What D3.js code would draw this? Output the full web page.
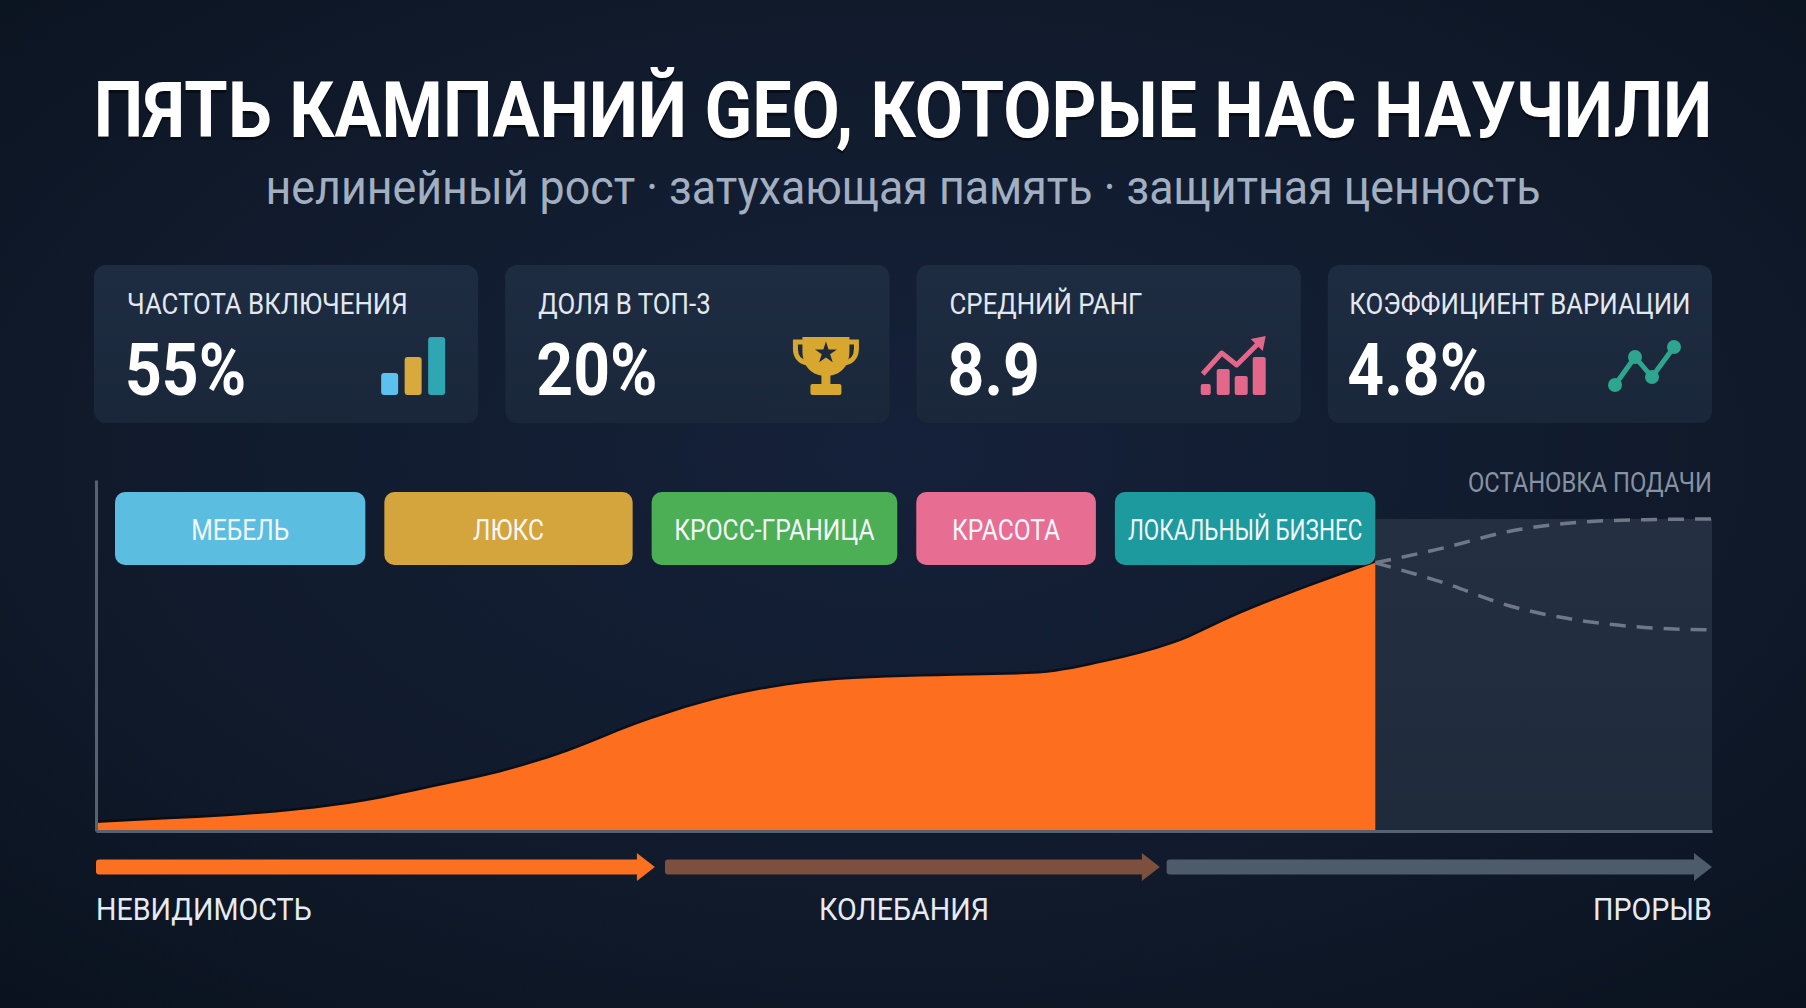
<!DOCTYPE html>
<html>
<head>
<meta charset="utf-8">
<script src="https://cdn.jsdelivr.net/npm/d3@7"></script>
<style>
  body { margin: 0; background: #0e1828; }
  text { font-family: Roboto, "Noto Sans", sans-serif; }
</style>
</head>
<body>
<div id="chart"></div>
<script>

const title = "ПЯТЬ КАМПАНИЙ GEO, КОТОРЫЕ НАС НАУЧИЛИ";
const subtitle = "нелинейный рост · затухающая память · защитная ценность";

const kpiLabels = ["ЧАСТОТА ВКЛЮЧЕНИЯ", "ДОЛЯ В ТОП-3", "СРЕДНИЙ РАНГ", "КОЭФФИЦИЕНТ ВАРИАЦИИ"];
const kpiValues = ["55%", "20%", "8.9", "4.8%"];

const campaigns = ["МЕБЕЛЬ", "ЛЮКС", "КРОСС-ГРАНИЦА", "КРАСОТА", "ЛОКАЛЬНЫЙ БИЗНЕС"];
const campaignStart = [0, 4, 7.97, 11.9, 14.85];
const campaignEnd = [4, 7.97, 11.9, 14.85, 19];

// visibility index per week, 0-100
const weeks = [0, 1, 2, 3, 4, 5, 6, 7, 8, 9, 10, 11, 12, 13, 14, 15, 16, 17, 18, 19];
const growth = [2.3, 3.3, 4.3, 5.9, 8.5, 12.5, 16.7, 22.6, 30.2, 36.4, 40.7, 43.0, 43.9, 44.3, 44.9, 48.2, 53.4, 62.0, 69.5, 76.4];

// after feeding stops
const stopLabel = "ОСТАНОВКА ПОДАЧИ";
const afterWeeks = [19, 20, 21, 22, 23, 24];
const afterUpper = [76.4, 80.6, 85.4, 87.9, 88.7, 88.9];
const afterLower = [76.4, 70.8, 64.1, 60.1, 58.0, 57.3];

const phases = ["НЕВИДИМОСТЬ", "КОЛЕБАНИЯ", "ПРОРЫВ"];
const phaseStart = [0, 8.45, 15.9];
const phaseEnd = [8.3, 15.8, 24];


const width = 1806;
const height = 1008;

const margin = { top: 478, left: 96, right: 94, bottom: 177 };

const svg = d3.select("#chart")
    .append("svg")
    .attr("width", width)
    .attr("height", height);

const defs = svg.append("defs");

const bg = defs.append("radialGradient")
    .attr("id", "bg")
    .attr("cx", "50%").attr("cy", "45%").attr("r", "75%");
bg.append("stop").attr("offset", "0%").attr("stop-color", "#15213a");
bg.append("stop").attr("offset", "60%").attr("stop-color", "#101a2b");
bg.append("stop").attr("offset", "100%").attr("stop-color", "#0a121e");

const shade = defs.append("linearGradient")
    .attr("id", "shade")
    .attr("x1", 0).attr("y1", 0).attr("x2", 0).attr("y2", 1);
shade.append("stop").attr("offset", "0%").attr("stop-color", "#243042");
shade.append("stop").attr("offset", "100%").attr("stop-color", "#1f2a3b");

const card = defs.append("linearGradient")
    .attr("id", "card")
    .attr("x1", 0).attr("y1", 0).attr("x2", 0).attr("y2", 1);
card.append("stop").attr("offset", "0%").attr("stop-color", "#1e2c42");
card.append("stop").attr("offset", "100%").attr("stop-color", "#1a273a");

svg.append("rect")
    .attr("width", width)
    .attr("height", height)
    .attr("fill", "url(#bg)");


// squeeze text horizontally to look like a condensed face
function squeeze(sel, k, maxW) {
    sel.each(function(d, i) {
        let w = this.getComputedTextLength() * k;
        const lim = maxW ? maxW(d, i) : Infinity;
        d3.select(this)
            .attr("textLength", Math.min(w, lim))
            .attr("lengthAdjust", "spacingAndGlyphs");
    });
}

// ---- title ----
// soft shadow first, then the white text over it; stretched a bit upward
[["#000000", 0.45, 3], ["#ffffff", 1, 0]].forEach(([c, o, dy]) => {
    svg.append("text")
        .attr("transform", `translate(${width / 2},${137 + dy}) scale(0.973,1.08)`)
        .attr("text-anchor", "middle")
        .attr("fill", c)
        .attr("fill-opacity", o)
        .attr("font-size", 72)
        .attr("font-weight", 700)
        .text(title);
});

svg.append("text")
    .attr("x", width / 2)
    .attr("y", 204)
    .attr("text-anchor", "middle")
    .attr("fill", "#a2afc1")
    .attr("font-size", 49)
    .text(subtitle)
    .call(squeeze, 1, () => 1275);


// ---- KPI cards ----
const cardScale = d3.scaleBand()
    .domain(kpiLabels)
    .range([94, 1712])
    .paddingInner(0.066);

const cardTop = 265;
const cardH = 158;

const cards = svg.selectAll(".card")
    .data(kpiLabels)
    .enter()
    .append("g")
        .attr("class", "card")
        .attr("transform", d => `translate(${cardScale(d)},${cardTop})`);

cards.append("rect")
    .attr("width", cardScale.bandwidth())
    .attr("height", cardH)
    .attr("rx", 12)
    .attr("fill", "url(#card)");

const labels = cards.append("text")
    .attr("y", 49)
    .attr("fill", "#e3e8ef")
    .attr("font-size", 30)
    .text(d => d)
    .call(squeeze, 0.86);

// long labels get centred instead of the usual left inset
const inset = [];
labels.each(function(d, i) {
    const w = +d3.select(this).attr("textLength");
    inset[i] = Math.min(33, (cardScale.bandwidth() - w) / 2);
    d3.select(this).attr("x", inset[i]);
});

cards.append("text")
    .attr("x", (d, i) => inset[i] - 2)
    .attr("y", 130)
    .attr("fill", "#ffffff")
    .attr("font-size", 73)
    .attr("font-weight", 700)
    .text((d, i) => kpiValues[i])
    .call(squeeze, 0.88);

const iconX = cardScale.bandwidth() - 97;

// icon 1: bars
const ic1 = d3.select(cards.nodes()[0]).append("g")
    .attr("transform", `translate(${iconX},72)`);
const barH = [22, 38, 58];
const barC = ["#5cc1ef", "#d8a93c", "#2fa7b3"];
ic1.selectAll("rect")
    .data(barH)
    .enter()
    .append("rect")
        .attr("x", (d, i) => i * 23.5)
        .attr("y", d => 58 - d)
        .attr("width", 17)
        .attr("height", d => d)
        .attr("rx", 3)
        .attr("fill", (d, i) => barC[i]);

// icon 2: trophy
const gold = "#d8a72f";
const ic2 = d3.select(cards.nodes()[1]).append("g")
    .attr("transform", `translate(${iconX},71)`);
ic2.append("path")
    .attr("d", "M10,1 H57 V15 C57,31 47,40 33.5,40 C20,40 10,31 10,15 Z")
    .attr("fill", gold);
ic2.append("path")
    .attr("d", "M11,6 H3 V13 C3,21 8,26 15,27 M56,6 H64 V13 C64,21 59,26 52,27")
    .attr("fill", "none")
    .attr("stroke", gold)
    .attr("stroke-width", 5);
ic2.append("rect")
    .attr("x", 29).attr("y", 38).attr("width", 9).attr("height", 11)
    .attr("fill", gold);
ic2.append("rect")
    .attr("x", 18).attr("y", 48).attr("width", 31).attr("height", 11).attr("rx", 2)
    .attr("fill", gold);
ic2.append("path")
    .attr("d", d3.symbol(d3.symbolStar, 150)())
    .attr("transform", "translate(33.5,17)")
    .attr("fill", "#1c2a3f");

// icon 3: bars with rising arrow
const pink = "#e2678a";
const ic3 = d3.select(cards.nodes()[2]).append("g")
    .attr("transform", `translate(${iconX - 3},72)`);
const bar3 = [[0, 10, 11], [16, 13, 26], [34, 13, 19], [52, 13, 38]];
ic3.selectAll("rect")
    .data(bar3)
    .enter()
    .append("rect")
        .attr("x", d => d[0])
        .attr("y", d => 58 - d[2])
        .attr("width", d => d[1])
        .attr("height", d => d[2])
        .attr("rx", 2)
        .attr("fill", pink);
ic3.append("path")
    .attr("d", d3.line()([[2, 37], [21, 16], [36, 28], [58, 6]]))
    .attr("fill", "none")
    .attr("stroke", pink)
    .attr("stroke-width", 5)
    .attr("stroke-linejoin", "round");
ic3.append("path")
    .attr("d", "M50,2 L65,-1 L62,14 Z")
    .attr("fill", pink);

// icon 4: dotted line
const teal = "#2ea58f";
const ic4 = d3.select(cards.nodes()[3]).append("g")
    .attr("transform", `translate(${iconX - 6},72)`);
const pts4 = [[6, 48], [26, 20], [43, 40], [65, 10]];
ic4.append("path")
    .attr("d", d3.line()(pts4))
    .attr("fill", "none")
    .attr("stroke", teal)
    .attr("stroke-width", 5);
ic4.selectAll("circle")
    .data(pts4)
    .enter()
    .append("circle")
        .attr("cx", d => d[0])
        .attr("cy", d => d[1])
        .attr("r", 7)
        .attr("fill", teal);


// ---- growth chart ----
const xScale = d3.scaleLinear()
    .domain([0, 24])
    .range([margin.left, width - margin.right]);

const yScale = d3.scaleLinear()
    .domain([0, 100])
    .range([831, 480]);

const series = weeks.map((w, i) => ({ w: w, v: growth[i] }));
const upper = afterWeeks.map((w, i) => ({ w: w, v: afterUpper[i] }));
const lower = afterWeeks.map((w, i) => ({ w: w, v: afterLower[i] }));

// faded region after feeding stops
svg.append("rect")
    .attr("x", xScale(afterWeeks[0]))
    .attr("y", yScale(d3.max(afterUpper)))
    .attr("width", xScale(afterWeeks[afterWeeks.length - 1]) - xScale(afterWeeks[0]))
    .attr("height", yScale(0) - yScale(d3.max(afterUpper)))
    .attr("fill", "url(#shade)");

const area = d3.area()
    .x(d => xScale(d.w))
    .y0(yScale(0))
    .y1(d => yScale(d.v))
    .curve(d3.curveMonotoneX);

const line = d3.line()
    .x(d => xScale(d.w))
    .y(d => yScale(d.v))
    .curve(d3.curveMonotoneX);

svg.append("path")
    .datum(series)
    .attr("d", line)
    .attr("fill", "none")
    .attr("stroke", "#05090f")
    .attr("stroke-opacity", 0.6)
    .attr("stroke-width", 5);

svg.append("path")
    .datum(series)
    .attr("d", area)
    .attr("fill", "#fd6f1f");

[upper, lower].forEach(s => {
    svg.append("path")
        .datum(s)
        .attr("d", line)
        .attr("fill", "none")
        .attr("stroke", "#6e7887")
        .attr("stroke-width", 3.5)
        .attr("stroke-dasharray", "16,11");
});

svg.append("text")
    .attr("x", xScale(24))
    .attr("y", 492)
    .attr("text-anchor", "end")
    .attr("fill", "#8792a2")
    .attr("font-size", 27)
    .text(stopLabel)
    .call(squeeze, 0.88);

const xAxis = svg.append("g")
    .attr("transform", `translate(0,${yScale(0)})`)
    .call(d3.axisBottom(xScale).tickValues([]).tickSizeOuter(0));

const yAxis = svg.append("g")
    .attr("transform", `translate(${margin.left},0)`)
    .call(d3.axisLeft(yScale).tickValues([]).tickSizeOuter(0));

svg.selectAll(".domain")
    .attr("stroke", "#566172")
    .attr("stroke-width", 3);


// ---- campaign pills ----
const pillColor = d3.scaleOrdinal()
    .domain(campaigns)
    .range(["#5bbde0", "#d4a53c", "#4cae55", "#e86d93", "#1d9a9d"]);

const pillX = i => xScale(campaignStart[i]) + 19;
const pillW = i => xScale(campaignEnd[i]) - pillX(i);

const pills = svg.selectAll(".pill")
    .data(campaigns)
    .enter()
    .append("g")
        .attr("class", "pill");

pills.append("rect")
    .attr("x", (d, i) => pillX(i))
    .attr("y", 492)
    .attr("width", (d, i) => pillW(i))
    .attr("height", 73)
    .attr("rx", 10)
    .attr("fill", d => pillColor(d));

pills.append("text")
    .attr("x", (d, i) => pillX(i) + pillW(i) / 2)
    .attr("y", 540)
    .attr("text-anchor", "middle")
    .attr("fill", "#f4f7fa")
    .attr("font-size", 29)
    .text(d => d)
    .call(squeeze, 0.85, (d, i) => pillW(i) - 26);


// ---- phase arrows ----
const phaseColor = ["#fc7021", "#7d4f3f", "#4e5b6b"];
const arrowY = 867;

const arrows = svg.selectAll(".phase")
    .data(phases)
    .enter()
    .append("g")
        .attr("class", "phase");

arrows.append("rect")
    .attr("x", (d, i) => xScale(phaseStart[i]))
    .attr("y", arrowY - 7.5)
    .attr("width", (d, i) => xScale(phaseEnd[i]) - xScale(phaseStart[i]) - 16)
    .attr("height", 15)
    .attr("rx", 3)
    .attr("fill", (d, i) => phaseColor[i]);

arrows.append("path")
    .attr("d", (d, i) => {
        const tip = xScale(phaseEnd[i]);
        return `M${tip - 18},${arrowY - 14} L${tip},${arrowY} L${tip - 18},${arrowY + 14} Z`;
    })
    .attr("fill", (d, i) => phaseColor[i]);

arrows.append("text")
    .attr("x", (d, i) => i === 0 ? xScale(0) : i === phases.length - 1 ? xScale(24) : xScale(12))
    .attr("y", 920)
    .attr("text-anchor", (d, i) => i === 0 ? "start" : i === phases.length - 1 ? "end" : "middle")
    .attr("fill", "#e6ebf1")
    .attr("font-size", 31)
    .text(d => d)
    .call(squeeze, 0.925);

</script>
</body>
</html>
